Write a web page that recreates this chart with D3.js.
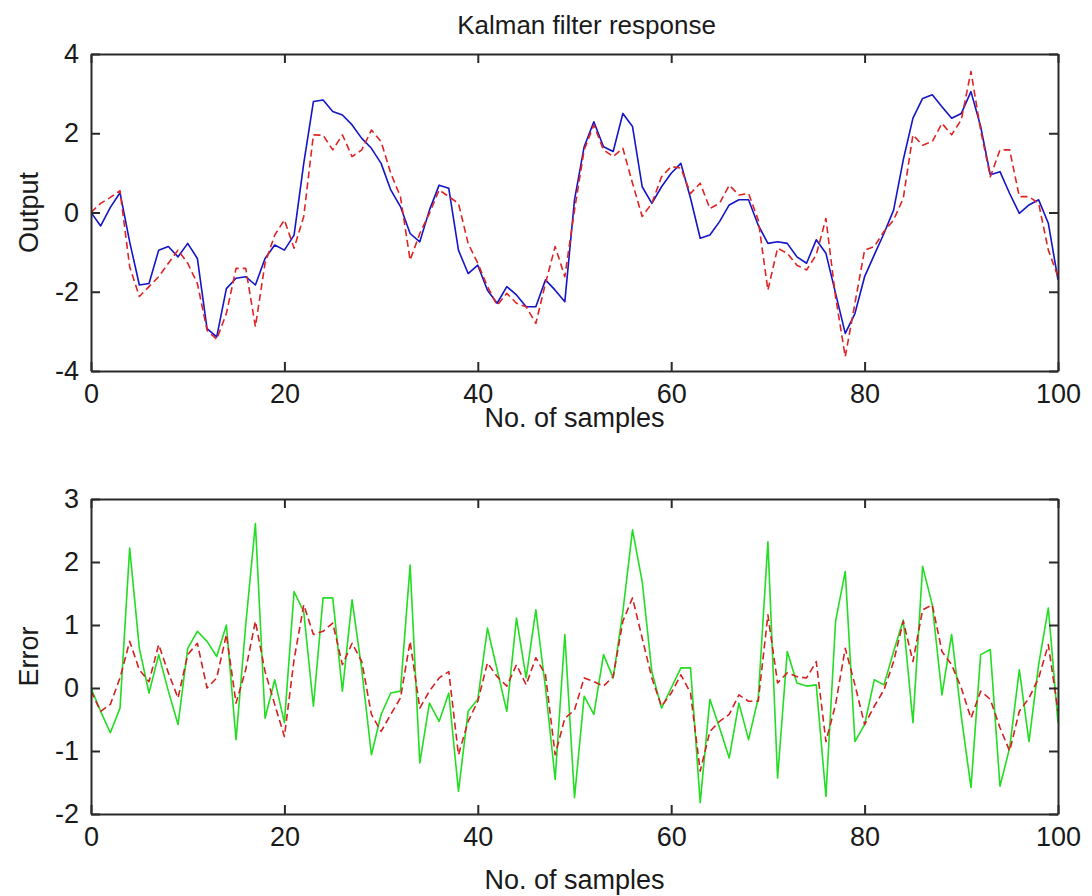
<!DOCTYPE html>
<html>
<head>
<meta charset="utf-8">
<script src="https://cdn.jsdelivr.net/npm/d3@7"></script>
<style>
  html, body { margin: 0; padding: 0; background: #ffffff; }
  svg { display: block; }
  text { font-family: "Liberation Sans", Arial, sans-serif; fill: #1a1a1a; }
</style>
</head>
<body>
<script>
// ---------- DATA ----------
const samples = d3.range(0, 101);

// Top plot: true output (blue, solid)
const outputTrue = [
  0.00, -0.34, 0.13, 0.50, -0.74, -1.83, -1.79, -0.95, -0.86, -1.12,
  -0.78, -1.16, -2.93, -3.14, -1.92, -1.66, -1.62, -1.83, -1.16, -0.82,
  -0.95, -0.57, 1.24, 2.80, 2.84, 2.55, 2.46, 2.21, 1.87, 1.62,
  1.24, 0.57, 0.15, -0.53, -0.74, 0.06, 0.69, 0.61, -0.95, -1.54,
  -1.33, -1.96, -2.29, -1.87, -2.08, -2.38, -2.38, -1.70, -1.96, -2.25,
  0.32, 1.66, 2.29, 1.66, 1.54, 2.50, 2.17, 0.65, 0.23, 0.65,
  0.99, 1.24, 0.36, -0.65, -0.57, -0.23, 0.19, 0.32, 0.32, -0.32,
  -0.78, -0.74, -0.78, -1.12, -1.28, -0.69, -1.03, -2.04, -3.05, -2.55,
  -1.62, -1.07, -0.53, 0.06, 1.33, 2.38, 2.88, 2.97, 2.67, 2.38,
  2.50, 3.05, 2.17, 0.95, 1.03, 0.48, -0.02, 0.19, 0.32, -0.27,
  -1.70
];

// Top plot: Kalman estimate (red, dashed)
const outputEst = [
  0.00, 0.23, 0.38, 0.55, -1.37, -2.12, -1.87, -1.62, -1.28, -0.95,
  -1.28, -1.79, -2.97, -3.20, -2.55, -1.41, -1.41, -2.88, -1.28, -0.57,
  -0.19, -0.90, -0.10, 1.96, 1.95, 1.58, 1.96, 1.41, 1.58, 2.08,
  1.79, 0.99, 0.40, -1.20, -0.53, -0.02, 0.57, 0.40, 0.23, -0.78,
  -1.28, -1.87, -2.34, -2.04, -2.29, -2.38, -2.80, -1.79, -0.86, -1.62,
  0.06, 1.58, 2.21, 1.58, 1.41, 1.62, 0.74, -0.10, 0.23, 0.90,
  1.16, 1.12, 0.48, 0.74, 0.10, 0.23, 0.69, 0.44, 0.48, -0.19,
  -1.96, -0.90, -1.03, -1.33, -1.45, -1.07, -0.15, -2.13, -3.64, -2.29,
  -0.95, -0.86, -0.48, -0.19, 0.36, 1.96, 1.70, 1.79, 2.25, 1.96,
  2.34, 3.56, 2.08, 0.90, 1.58, 1.58, 0.40, 0.40, 0.23, -0.95,
  -1.62
];

// Bottom plot: measurement error (green, solid)
const errorMeas = [
  0.00, -0.37, -0.71, -0.32, 2.22, 0.63, -0.08, 0.53, -0.05, -0.58,
  0.63, 0.90, 0.74, 0.50, 1.00, -0.82, 1.00, 2.61, -0.48, 0.13,
  -0.55, 1.53, 1.21, -0.29, 1.43, 1.43, -0.05, 1.40, 0.29, -1.06,
  -0.42, -0.08, -0.05, 1.95, -1.19, -0.24, -0.53, -0.08, -1.64, -0.37,
  -0.18, 0.95, 0.29, -0.37, 1.11, 0.16, 1.24, 0.00, -1.45, 0.85,
  -1.74, -0.13, -0.42, 0.53, 0.16, 1.21, 2.51, 1.69, 0.26, -0.32,
  0.00, 0.32, 0.32, -1.82, -0.18, -0.63, -1.11, -0.24, -0.82, -0.16,
  2.32, -1.43, 0.58, 0.08, 0.03, 0.05, -1.72, 1.06, 1.85, -0.85,
  -0.58, 0.13, 0.05, 0.58, 1.08, -0.55, 1.93, 1.32, -0.11, 0.85,
  -0.45, -1.58, 0.53, 0.61, -1.56, -0.95, 0.29, -0.85, 0.37, 1.27,
  -0.55
];

// Bottom plot: estimation error (red, dashed)
const errorEst = [
  -0.05, -0.37, -0.26, 0.16, 0.74, 0.29, 0.10, 0.69, 0.24, -0.16,
  0.53, 0.71, 0.00, 0.16, 0.85, -0.24, 0.29, 1.06, 0.26, -0.26,
  -0.77, 0.45, 1.32, 0.85, 0.90, 1.03, 0.37, 0.71, 0.42, -0.42,
  -0.69, -0.42, -0.16, 0.74, -0.32, -0.05, 0.16, 0.26, -1.06, -0.53,
  -0.21, 0.40, 0.18, 0.03, 0.37, 0.05, 0.48, 0.21, -1.06, -0.48,
  -0.35, 0.16, 0.10, 0.03, 0.18, 1.06, 1.43, 0.79, 0.16, -0.29,
  -0.08, 0.21, -0.08, -1.32, -0.69, -0.53, -0.42, -0.11, -0.21, -0.21,
  1.16, 0.08, 0.24, 0.18, 0.16, 0.42, -0.85, -0.26, 0.63, 0.05,
  -0.58, -0.29, -0.03, 0.42, 1.06, 0.42, 1.24, 1.32, 0.58, 0.37,
  0.00, -0.48, -0.05, -0.18, -0.63, -1.00, -0.37, -0.16, 0.16, 0.69,
  -0.37
];

const xTicks = [0, 20, 40, 60, 80, 100];
const yTicksTop = [-4, -2, 0, 2, 4];
const yTicksBottom = [-2, -1, 0, 1, 2, 3];

const titleText = "Kalman filter response";
const xLabelText = "No. of samples";
const yLabelTop = "Output";
const yLabelBottom = "Error";

// ---------- LAYOUT ----------
const W = 1092, H = 896;
const left = 91, right = 1058;
const panels = [
  { top: 54, bottom: 371, domain: [-4, 4], ticks: yTicksTop, ylabel: yLabelTop, xlabelY: 418,
    series: [
      { values: outputTrue, color: "#1414c8", dash: null, width: 1.6 },
      { values: outputEst, color: "#e02424", dash: "7,4", width: 1.6 }
    ] },
  { top: 499, bottom: 814, domain: [-2, 3], ticks: yTicksBottom, ylabel: yLabelBottom, xlabelY: 880,
    series: [
      { values: errorMeas, color: "#22dd22", dash: null, width: 1.6 },
      { values: errorEst, color: "#d42020", dash: "7,4", width: 1.6 }
    ] }
];

const svg = d3.select("body").append("svg")
  .attr("width", W).attr("height", H);

svg.append("rect").attr("width", W).attr("height", H).attr("fill", "#ffffff");

const fontSize = 27;
const tickLen = 9;
const fmt = d => String(d);

const x = d3.scaleLinear().domain([0, 100]).range([left, right]);

svg.append("text")
  .attr("x", (left + right) / 2 + 12)
  .attr("y", 25)
  .attr("dy", "0.35em")
  .attr("text-anchor", "middle")
  .style("font-size", "26px")
  .text(titleText);

panels.forEach(p => {
  const y = d3.scaleLinear().domain(p.domain).range([p.bottom, p.top]);
  const g = svg.append("g");

  const clipId = "clip" + p.top;
  svg.append("clipPath").attr("id", clipId)
    .append("rect").attr("x", left).attr("y", p.top)
    .attr("width", right - left).attr("height", p.bottom - p.top);

  const line = d3.line().x((d, i) => x(samples[i])).y(d => y(d));
  p.series.forEach(s => {
    g.append("path")
      .datum(s.values)
      .attr("clip-path", "url(#" + clipId + ")")
      .attr("fill", "none")
      .attr("stroke", s.color)
      .attr("stroke-width", s.width)
      .attr("stroke-dasharray", s.dash)
      .attr("stroke-linejoin", "round")
      .attr("d", line);
  });

  const axisColor = "#2a2a2a";
  const gb = g.append("g").attr("transform", `translate(0,${p.bottom})`)
    .call(d3.axisBottom(x).tickValues(xTicks).tickFormat(fmt).tickSizeInner(-tickLen).tickSizeOuter(0).tickPadding(13));
  const gt = g.append("g").attr("transform", `translate(0,${p.top})`)
    .call(d3.axisTop(x).tickValues(xTicks).tickSizeInner(-tickLen).tickSizeOuter(0).tickFormat(""));
  const gl = g.append("g").attr("transform", `translate(${left},0)`)
    .call(d3.axisLeft(y).tickValues(p.ticks).tickFormat(fmt).tickSizeInner(-tickLen).tickSizeOuter(0).tickPadding(12));
  const gr = g.append("g").attr("transform", `translate(${right},0)`)
    .call(d3.axisRight(y).tickValues(p.ticks).tickSizeInner(-tickLen).tickSizeOuter(0).tickFormat(""));

  [gb, gt, gl, gr].forEach(a => {
    a.selectAll(".domain").attr("stroke", axisColor).attr("stroke-width", 2);
    a.selectAll(".tick line").attr("stroke", axisColor).attr("stroke-width", 2);
    a.selectAll(".tick text")
      .style("font-size", fontSize + "px")
      .style("font-family", "'Liberation Sans', Arial, sans-serif")
      .attr("fill", "#1a1a1a");
  });
  gb.selectAll(".tick text").attr("dy", "0.71em");

  g.append("text")
    .attr("x", (left + right) / 2)
    .attr("y", p.xlabelY)
    .attr("dy", "0.35em")
    .attr("text-anchor", "middle")
    .style("font-size", fontSize + "px")
    .text(xLabelText);

  g.append("text")
    .attr("transform", `translate(38,${(p.top + p.bottom) / 2}) rotate(-90)`)
    .attr("text-anchor", "middle")
    .style("font-size", fontSize + "px")
    .text(p.ylabel);
});
</script>
</body>
</html>
